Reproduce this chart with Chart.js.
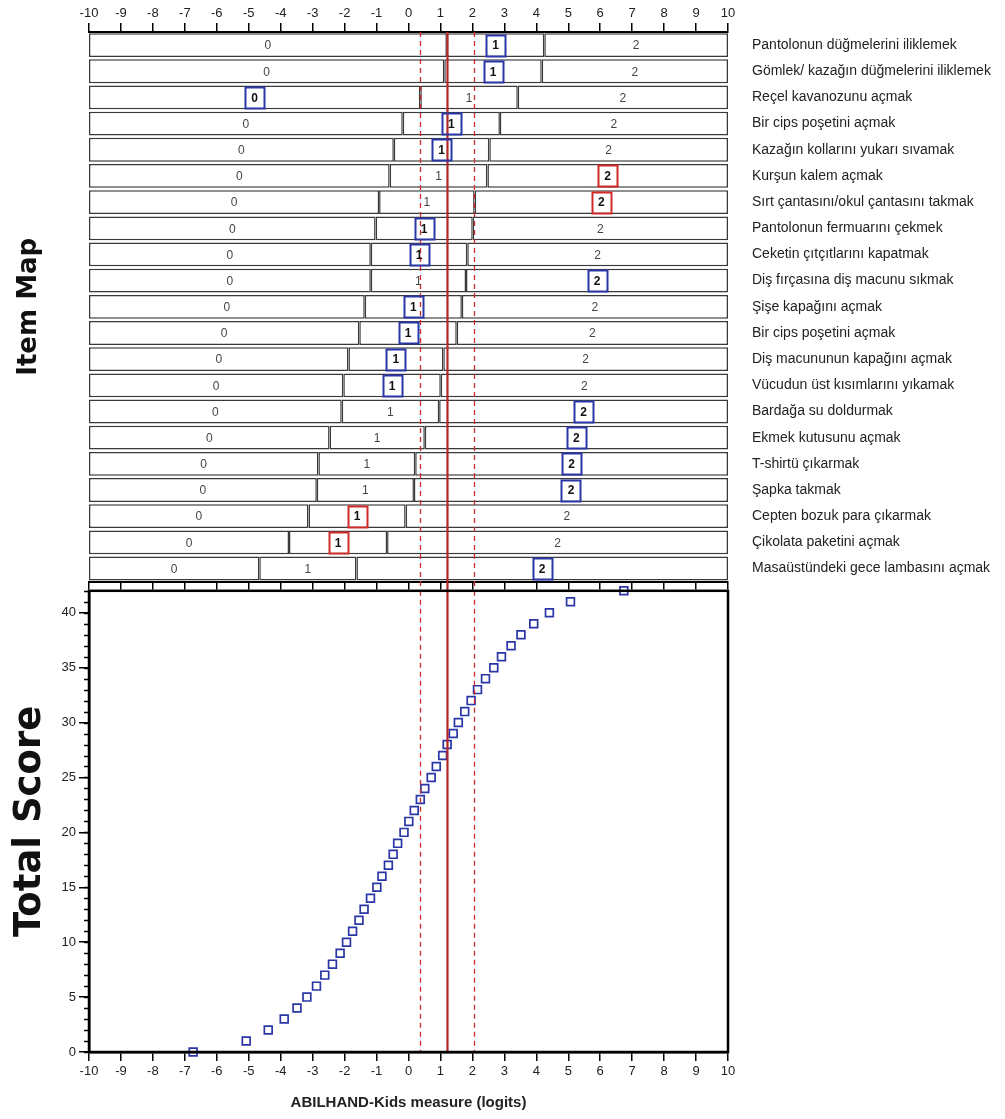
<!DOCTYPE html>
<html>
<head>
<meta charset="utf-8">
<script src="https://cdn.jsdelivr.net/npm/chart.js@4.4.1/dist/chart.umd.min.js"></script>
<style>
body { margin:0; background:#fff; }
#wrap { position:relative; width:1005px; height:1119px; overflow:hidden; }
#mapCanvas { position:absolute; left:0; top:0; }
#scoreCanvas { position:absolute; left:0; top:580px; }
</style>
</head>
<body>
<div id="wrap">
<canvas id="mapCanvas" width="1005" height="593"></canvas>
<canvas id="scoreCanvas" width="1005" height="539"></canvas>
</div>
<script>
// item names, top to bottom
var items = [
	"Pantolonun düğmelerini iliklemek",
	"Gömlek/ kazağın düğmelerini iliklemek",
	"Reçel kavanozunu açmak",
	"Bir cips poşetini açmak",
	"Kazağın kollarını yukarı sıvamak",
	"Kurşun kalem açmak",
	"Sırt çantasını/okul çantasını takmak",
	"Pantolonun fermuarını çekmek",
	"Ceketin çıtçıtlarını kapatmak",
	"Diş fırçasına diş macunu sıkmak",
	"Şişe kapağını açmak",
	"Bir cips poşetini açmak",
	"Diş macununun kapağını açmak",
	"Vücudun üst kısımlarını yıkamak",
	"Bardağa su doldurmak",
	"Ekmek kutusunu açmak",
	"T-shirtü çıkarmak",
	"Şapka takmak",
	"Cepten bozuk para çıkarmak",
	"Çikolata paketini açmak",
	"Masaüstündeki gece lambasını açmak"
];
// thresholds 0|1 and 1|2 (logits)
var thr1 = [1.2, 1.12, 0.37, -0.18, -0.46, -0.59, -0.92, -1.03, -1.18, -1.18, -1.37, -1.54, -1.88, -2.04, -2.09, -2.47, -2.82, -2.87, -3.13, -3.74, -4.67];
var thr2 = [4.25, 4.17, 3.42, 2.86, 2.53, 2.47, 2.07, 2.01, 1.84, 1.80, 1.67, 1.51, 1.09, 1.01, 0.96, 0.51, 0.21, 0.17, -0.09, -0.67, -1.63];
// boxed category per item and its colour (b = blue, r = red)
var boxCat = [1, 1, 0, 1, 1, 2, 2, 1, 1, 2, 1, 1, 1, 1, 2, 2, 2, 2, 1, 1, 2];
var boxCol = ["b", "b", "b", "b", "b", "r", "r", "b", "b", "b", "b", "b", "b", "b", "b", "b", "b", "b", "r", "r", "b"];
var catNames = ["0", "1", "2"];

// total score -> measure
var scores = [0,1,2,3,4,5,6,7,8,9,10,11,12,13,14,15,16,17,18,19,20,21,22,23,24,25,26,27,28,29,30,31,32,33,34,35,36,37,38,39,40,41,42];
var measures = [-6.74, -5.08, -4.39, -3.89, -3.49, -3.18, -2.88, -2.62, -2.38, -2.14, -1.94, -1.75, -1.55, -1.39, -1.19, -0.99, -0.83, -0.63, -0.48, -0.34, -0.14, 0.01, 0.18, 0.37, 0.51, 0.71, 0.87, 1.07, 1.21, 1.40, 1.56, 1.76, 1.96, 2.16, 2.41, 2.67, 2.91, 3.21, 3.52, 3.92, 4.41, 5.07, 6.74];

// vertical reference lines
var refMid = 1.22;
var refDashed = [0.35, 2.06];

Chart.defaults.font.family = '"Liberation Sans", Arial, sans-serif';
Chart.defaults.color = '#222';
var narrow = '"Liberation Sans Narrow", "Liberation Sans", Arial, sans-serif';
var blue = '#2b36a6', red = '#d02b2b';

function refLines(extra) {
	return {
		id: 'refLines',
		afterDatasetsDraw: function(chart) {
			var ctx = chart.ctx, xs = chart.scales.x, a = chart.chartArea;
			ctx.save();
			ctx.strokeStyle = red;
			ctx.lineWidth = 1.3;
			ctx.setLineDash([5, 4]);
			refDashed.forEach(function(v) {
				var px = Math.round(xs.getPixelForValue(v)) + 0.5;
				ctx.beginPath(); ctx.moveTo(px, a.top); ctx.lineTo(px, a.bottom + extra); ctx.stroke();
			});
			ctx.setLineDash([]);
			ctx.strokeStyle = '#b3262a';
			ctx.lineWidth = 2.2;
			var pm = xs.getPixelForValue(refMid);
			ctx.beginPath(); ctx.moveTo(pm, a.top); ctx.lineTo(pm, a.bottom + extra); ctx.stroke();
			ctx.restore();
		}
	};
}

var catLabels = {
	id: 'catLabels',
	afterDatasetsDraw: function(chart) {
		var ctx = chart.ctx, xs = chart.scales.x, ys = chart.scales.y;
		ctx.save();
		ctx.textAlign = 'center';
		ctx.textBaseline = 'middle';
		for (var i = 0; i < items.length; i++) {
			var yc = ys.getPixelForValue(i);
			var b = [[-10, thr1[i]], [thr1[i], thr2[i]], [thr2[i], 10]];
			for (var c = 0; c < 3; c++) {
				var xc = xs.getPixelForValue((b[c][0] + b[c][1]) / 2);
				if (c == boxCat[i]) {
					ctx.strokeStyle = boxCol[i] == 'r' ? red : blue;
					ctx.lineWidth = 2;
					ctx.strokeRect(Math.round(xc - 9.5) + 0.5, Math.round(yc - 10.5) + 0.5, 19, 21);
					ctx.font = 'bold 12px "Liberation Sans", Arial, sans-serif';
					ctx.fillStyle = '#111';
				} else {
					ctx.font = '12px "Liberation Sans", Arial, sans-serif';
					ctx.fillStyle = '#444';
				}
				ctx.fillText(catNames[c], xc, yc + 1);
			}
		}
		ctx.restore();
	}
};

var segs = [[], [], []];
for (var i = 0; i < items.length; i++) {
	segs[0].push([-10, thr1[i]]);
	segs[1].push([thr1[i], thr2[i]]);
	segs[2].push([thr2[i], 10]);
}
var mapDatasets = segs.map(function(d) {
	return {
		data: d,
		backgroundColor: '#fff',
		borderColor: '#3a3a3a',
		borderWidth: 1.5,
		borderSkipped: false,
		barPercentage: 0.91,
		categoryPercentage: 1,
		grouped: false
	};
});

new Chart(document.getElementById('mapCanvas'), {
	type: 'bar',
	data: { labels: items, datasets: mapDatasets },
	options: {
		indexAxis: 'y',
		responsive: false,
		animation: false,
		devicePixelRatio: 1,
		layout: { padding: 0 },
		plugins: { legend: { display: false }, tooltip: { enabled: false } },
		scales: {
			x: {
				type: 'linear', position: 'top', min: -10, max: 10,
				ticks: { stepSize: 1, font: { family: narrow, size: 13 }, color: '#222', padding: 2, maxRotation: 0, autoSkip: false },
				grid: { drawOnChartArea: false, tickLength: 9, color: '#000', lineWidth: 1.5 },
				border: { color: '#000', width: 2 },
				afterFit: function(s) { s.height = 32; }
			},
			x2: {
				type: 'linear', position: 'bottom', min: -10, max: 10,
				ticks: { stepSize: 1, display: false },
				grid: { drawOnChartArea: false, tickLength: 8, color: '#000', lineWidth: 1.5 },
				border: { color: '#000', width: 2 },
				afterFit: function(s) { s.height = 11; }
			},
			y: {
				type: 'category', position: 'right',
				ticks: { font: { size: 14 }, color: '#222', padding: 3 },
				grid: { display: false, drawTicks: true, tickLength: 21 },
				border: { display: false },
				afterFit: function(s) { s.width = 277; }
			},
			yl: {
				type: 'category', position: 'left', labels: items,
				ticks: { display: false, padding: 0 },
				grid: { display: false, drawTicks: false },
				border: { display: false },
				title: { display: true, text: 'Item Map', color: '#111', font: { family: '"DejaVu Sans", sans-serif', size: 26, weight: 'bold' }, padding: { top: 14, bottom: 0 } },
				afterFit: function(s) { s.width = 89; }
			}
		}
	},
	plugins: [refLines(10), catLabels]
});

var pts = [];
for (var k = 0; k < scores.length; k++) pts.push({ x: measures[k], y: scores[k] });

var frame = {
	id: 'frame',
	afterDraw: function(chart) {
		var ctx = chart.ctx, a = chart.chartArea, ys = chart.scales.y;
		ctx.save();
		ctx.strokeStyle = '#000';
		ctx.lineWidth = 2.5;
		ctx.strokeRect(a.left, a.top, a.right - a.left, a.bottom - a.top);
		// minor ticks
		ctx.lineWidth = 1.5;
		for (var v = 0; v <= 42; v++) {
			var py = Math.round(ys.getPixelForValue(v)) + 0.5;
			ctx.beginPath(); ctx.moveTo(a.left - 5, py); ctx.lineTo(a.left, py); ctx.stroke();
		}
		ctx.restore();
	}
};

new Chart(document.getElementById('scoreCanvas'), {
	type: 'scatter',
	data: {
		datasets: [{
			data: pts,
			pointStyle: 'rect',
			pointRadius: 5.5,
			pointBorderWidth: 1.7,
			pointBorderColor: blue,
			pointBackgroundColor: 'rgba(255,255,255,0)',
			clip: false
		}]
	},
	options: {
		responsive: false,
		animation: false,
		devicePixelRatio: 1,
		layout: { padding: { top: 0, right: 277, left: 0, bottom: 0 } },
		plugins: { legend: { display: false }, tooltip: { enabled: false } },
		scales: {
			x: {
				type: 'linear', position: 'bottom', min: -10, max: 10,
				ticks: { stepSize: 1, font: { family: narrow, size: 13 }, color: '#222', padding: 3, maxRotation: 0, autoSkip: false },
				grid: { drawOnChartArea: false, tickLength: 9, color: '#000', lineWidth: 1.5 },
				border: { color: '#000', width: 2.5 },
				title: { display: true, text: 'ABILHAND-Kids measure (logits)', color: '#222', font: { size: 15, weight: 'bold' }, padding: { top: 0, bottom: 7 } },
				afterFit: function(s) { s.height = 67; }
			},
			y: {
				type: 'linear', position: 'left', min: 0, max: 42,
				ticks: { stepSize: 5, includeBounds: false, font: { family: narrow, size: 13 }, color: '#222', padding: 3 },
				grid: { drawOnChartArea: false, tickLength: 10, color: '#000', lineWidth: 1.5 },
				border: { color: '#000', width: 2.5 },
				title: { display: true, text: 'Total Score', color: '#111', font: { family: '"DejaVu Sans", sans-serif', size: 37, weight: 'bold' }, padding: { top: 8, bottom: 0 } },
				afterFit: function(s) { s.width = 89; }
			}
		}
	},
	plugins: [refLines(0), frame]
});
</script>
</body>
</html>
